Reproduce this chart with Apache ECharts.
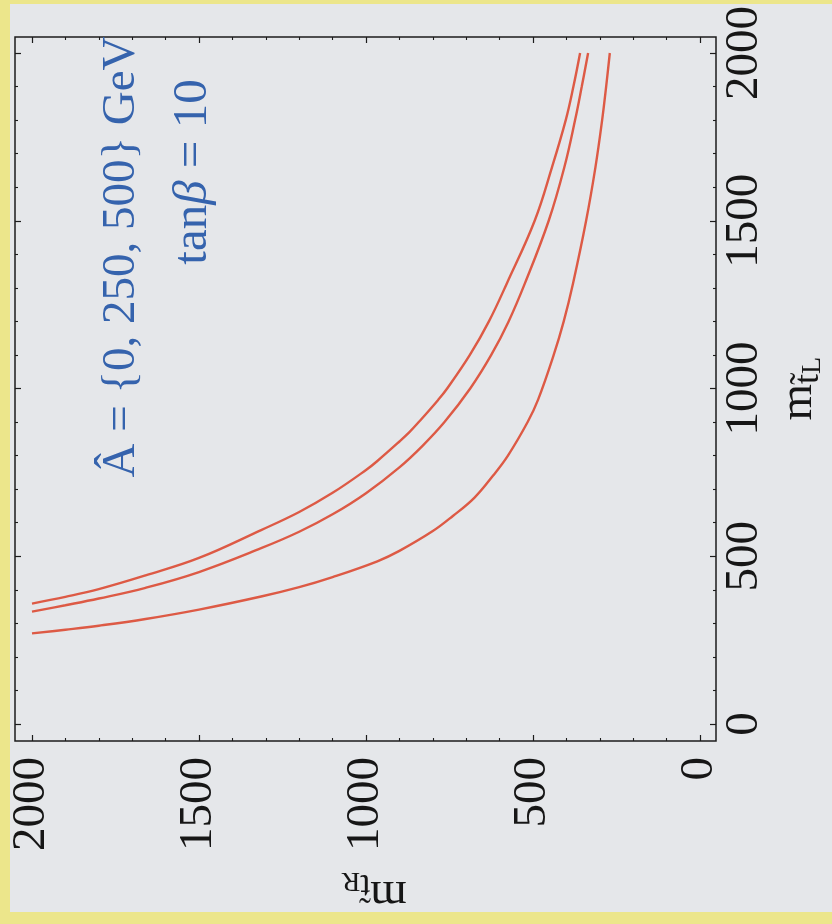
<!DOCTYPE html>
<html>
<head>
<meta charset="utf-8">
<script src="https://cdn.jsdelivr.net/npm/echarts@6/dist/echarts.min.js"></script>
<style>
  html, body { margin: 0; padding: 0; background: #e5e7ea; }
  #chart { width: 832px; height: 924px; }
</style>
</head>
<body>
<div id="chart"></div>
<script>
// Axis range shared by both stop-mass axes (GeV)
const axisMin = 0;
const axisMax = 2000;
const axisStep = 500;

// Contour for the largest A-hat: [m_tR, m_tL] pairs, listed along the curve
const outerR = [2000, 1900, 1800, 1660, 1500, 1314, 1200, 1100, 1000, 966, 900, 870, 842, 784, 757, 689, 632, 578, 495, 443, 402, 379, 359];
const outerL = [359, 379, 402, 443, 495, 578, 632, 689, 757, 784, 842, 870, 900, 966, 1000, 1100, 1200, 1314, 1500, 1660, 1800, 1900, 2000];

// Middle contour
const middleR = [2000, 1900, 1800, 1660, 1500, 1314, 1200, 1100, 1000, 900, 830, 765, 688, 625, 573, 524, 453, 406, 374, 354, 335];
const middleL = [335, 354, 374, 406, 453, 524, 573, 625, 688, 765, 830, 900, 1000, 1100, 1200, 1314, 1500, 1660, 1800, 1900, 2000];

// Inner contour
const innerR = [2000, 1900, 1800, 1660, 1500, 1314, 1200, 1100, 966, 900, 800, 740, 675, 620, 575, 516, 485, 438, 408, 380, 341, 313, 293, 281, 270];
const innerL = [270, 281, 293, 313, 341, 380, 408, 438, 485, 516, 575, 620, 675, 740, 800, 900, 966, 1100, 1200, 1314, 1500, 1660, 1800, 1900, 2000];

const annotationMain = 'Â = {0, 250, 500} GeV';
const annotationTan = 'tan{b|β} = 10';

const SERIF = '"Liberation Serif", "DejaVu Serif", serif';
const INK = '#161616';
const FRAME = '#1c1c1c';
const CURVE = '#dd5a45';
const BLUE = '#3563ad';

function pairs(xs, ys) {
  return xs.map((v, i) => [v, ys[i]]);
}

// Subscripted axis title: m with a tilde-t subscript and an R/L sub-subscript
function titleRich() {
  return {
    m: { fontSize: 47, fontFamily: SERIF, color: INK, lineHeight: 46, verticalAlign: 'top' },
    t: { fontSize: 36, fontFamily: SERIF, color: INK, lineHeight: 36, verticalAlign: 'bottom' },
    s: { fontSize: 28, fontFamily: SERIF, color: INK, lineHeight: 18, verticalAlign: 'bottom' },
    z: { fontSize: 1, lineHeight: 52 }
  };
}

function frameAxis(common) {
  return Object.assign({
    type: 'value',
    min: axisMin,
    max: axisMax,
    interval: axisStep,
    axisLine: { show: false, onZero: false },
    splitLine: { show: false },
    axisTick: { show: true, inside: true, length: 6, lineStyle: { color: FRAME, width: 1.2 } },
    minorTick: { show: true, splitNumber: 5, length: 3, lineStyle: { color: FRAME, width: 1.1 } },
    axisLabel: { show: false }
  }, common);
}

const tickLabel = {
  show: true, rotate: 90, fontSize: 47, fontFamily: SERIF, color: INK,
  formatter: v => String(v)
};

const chart = echarts.init(document.getElementById('chart'), null, { renderer: 'canvas' });

const option = {
  backgroundColor: '#e5e7ea',
  animation: false,
  grid: [
    { left: 32, top: 53, width: 668, height: 671, show: false, outerBoundsMode: 'none', containLabel: false },
    { left: 15, top: 37, width: 701, height: 704, show: true, outerBoundsMode: 'none', containLabel: false,
      borderColor: FRAME, borderWidth: 1.5, backgroundColor: 'transparent' }
  ],
  xAxis: [
    frameAxis({
      gridIndex: 0, position: 'bottom', inverse: true, offset: 17,
      axisLabel: Object.assign({ margin: 16 }, tickLabel),
      name: '{m|m}{t|t\u0303}{s|R}{z| }',
      nameLocation: 'middle', nameRotate: 180, nameGap: 125, nameMoveOverlap: false,
      nameTextStyle: { rich: titleRich(), padding: [0, 16, 0, 0] }
    }),
    frameAxis({ gridIndex: 0, position: 'top', inverse: true, offset: 16 }),
    { gridIndex: 1, type: 'value', show: false, min: 0, max: 1 }
  ],
  yAxis: [
    frameAxis({
      gridIndex: 0, position: 'right', offset: 16,
      axisLabel: Object.assign({ margin: 5 }, tickLabel),
      name: '{m|m}{t|t\u0303}{s|L}{z| }',
      nameLocation: 'middle', nameRotate: 90, nameGap: 59, nameMoveOverlap: false,
      nameTextStyle: { rich: titleRich() }
    }),
    frameAxis({ gridIndex: 0, position: 'left', offset: 17 }),
    { gridIndex: 1, type: 'value', show: false, min: 0, max: 1 }
  ],
  series: [
    { type: 'line', xAxisIndex: 0, yAxisIndex: 0, data: pairs(outerR, outerL) },
    { type: 'line', xAxisIndex: 0, yAxisIndex: 0, data: pairs(middleR, middleL) },
    { type: 'line', xAxisIndex: 0, yAxisIndex: 0, data: pairs(innerR, innerL) }
  ].map(s => Object.assign(s, {
    smooth: 0.4,
    showSymbol: false,
    silent: true,
    lineStyle: { color: CURVE, width: 2.4 }
  })),
  graphic: [
    { type: 'rect', silent: true, z: 100, shape: { x: 0, y: 0, width: 10, height: 924 }, style: { fill: '#ece68b' } },
    { type: 'rect', silent: true, z: 100, shape: { x: 0, y: 0, width: 832, height: 4 }, style: { fill: '#ece68b' } },
    { type: 'rect', silent: true, z: 100, shape: { x: 0, y: 912, width: 832, height: 12 }, style: { fill: '#ece68b' } },
    {
      type: 'text', x: 122, y: 257, rotation: Math.PI / 2, silent: true,
      style: { text: annotationMain, fontSize: 47, fontFamily: SERIF, fill: BLUE, align: 'center', verticalAlign: 'middle' }
    },
    {
      type: 'text', x: 193, y: 172, rotation: Math.PI / 2, silent: true,
      style: {
        text: annotationTan, fontSize: 49, fontFamily: SERIF, fill: BLUE, align: 'center', verticalAlign: 'middle',
        rich: { b: { fontSize: 49, fontFamily: SERIF, fontStyle: 'italic', fill: BLUE } }
      }
    }
  ]
};

chart.setOption(option);
</script>
</body>
</html>
